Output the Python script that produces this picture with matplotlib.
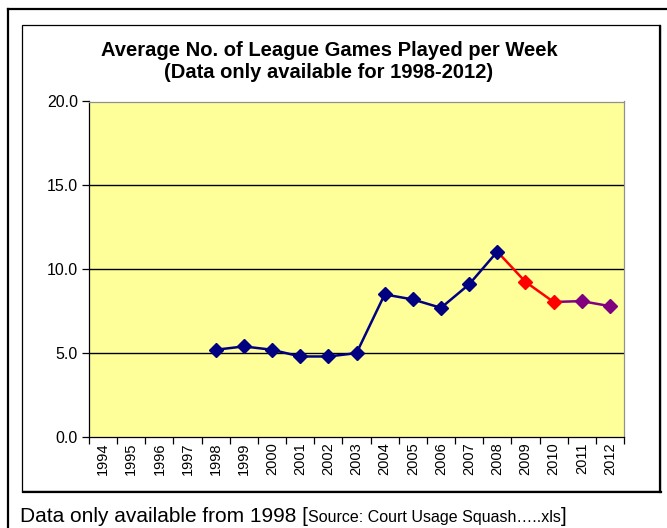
import matplotlib
matplotlib.use("Agg")
import matplotlib.pyplot as plt
from matplotlib.lines import Line2D
from matplotlib.patches import Rectangle

years = [str(y) for y in range(1994, 2013)]
data_years = list(range(1998, 2013))
values = [5.2, 5.4, 5.2, 4.8, 4.8, 5.0, 8.5, 8.2, 7.7, 9.1, 11.05, 9.25, 8.05, 8.1, 7.8]
# segments: (first year, last year, colour)
segments = [(1998, 2008, "#000080"), (2008, 2010, "#FF0000"), (2010, 2012, "#800080")]
marker_colors = ["#000080"] * 11 + ["#FF0000"] * 2 + ["#800080"] * 2

title = "Average No. of League Games Played per Week\n(Data only available for 1998-2012)"
footer_main = "Data only available from 1998 ["
footer_small = "Source: Court Usage Squash\u2026..xls"
footer_end = "]"

plt.rcParams["font.family"] = ["Liberation Sans", "DejaVu Sans"]

W, H = 667, 528
fig = plt.figure(figsize=(W / 100, H / 100), dpi=100)
fig.patch.set_facecolor("white")

def fx(px):
    return px / W

def fy(py):
    return 1 - py / H

# outer frame (top & left visible)
fig.add_artist(Line2D([fx(7.5), 1.0], [fy(9), fy(9)], color="black", lw=1.6, transform=fig.transFigure))
fig.add_artist(Line2D([fx(7.5), fx(7.5)], [fy(9), 0.0], color="black", lw=1.6, transform=fig.transFigure))

# inner chart box
fig.add_artist(Rectangle((fx(22), fy(491)), fx(660) - fx(22), fy(25) - fy(491),
                         transform=fig.transFigure, facecolor="white", edgecolor="black", lw=0.9, zorder=0))
fig.add_artist(Line2D([fx(660), fx(660)], [fy(26), fy(492)], color="black", lw=1.6, transform=fig.transFigure))
fig.add_artist(Line2D([fx(23), fx(661)], [fy(491.5), fy(491.5)], color="black", lw=1.6, transform=fig.transFigure))

left, right, top, bottom = 89, 624, 101.5, 437
ax = fig.add_axes([fx(left), fy(bottom), fx(right) - fx(left), fy(top) - fy(bottom)])
ax.set_facecolor("#FFFF99")

idx = {y: i for i, y in enumerate(range(1994, 2013))}
for y0, y1, c in segments:
    xs = [idx[y] for y in data_years if y0 <= y <= y1]
    vs = [v for y, v in zip(data_years, values) if y0 <= y <= y1]
    ax.plot(xs, vs, color=c, lw=1.8, zorder=3, solid_joinstyle="round")
for y, v, c in zip(data_years, values, marker_colors):
    ax.plot([idx[y]], [v], marker="D", ms=7.5, color=c, mec=c, zorder=4)

ax.set_xlim(-0.5, len(years) - 0.5)
ax.set_ylim(0, 20)
ax.set_yticks([0, 5, 10, 15, 20])
ax.set_yticklabels([f"{t:.1f}" for t in [0, 5, 10, 15, 20]], fontsize=11.5)
ax.set_xticks(range(len(years)))
ax.set_xticklabels(years, rotation=90, fontsize=10.5)
ax.tick_params(axis="x", which="major", length=0, pad=4)
ax.set_xticks([i - 0.5 for i in range(len(years) + 1)], minor=True)
ax.tick_params(axis="x", which="minor", length=5, width=0.9, direction="out", color="black")
ax.tick_params(axis="y", length=5, width=0.9, direction="out", color="black", pad=3)

for g in [5, 10, 15]:
    ax.axhline(g, color="black", lw=1.0, zorder=1)

ax.spines["left"].set_color("black")
ax.spines["bottom"].set_color("black")
ax.spines["top"].set_color("#909090")
ax.spines["right"].set_color("#909090")
for s in ax.spines.values():
    s.set_linewidth(0.9)

fig.text(fx(329), fy(61), title, ha="center", va="center", fontsize=14.5, fontweight="bold",
         linespacing=1.2)

# footer with mixed sizes
fig.canvas.draw()
r = fig.canvas.get_renderer()
base_y = fy(522)
t1 = fig.text(fx(20), base_y, footer_main, fontsize=15, ha="left", va="baseline")
fig.canvas.draw()
e1 = t1.get_window_extent(r)
t2 = fig.text(e1.x1 / W, base_y, footer_small, fontsize=11.5, ha="left", va="baseline")
fig.canvas.draw()
e2 = t2.get_window_extent(r)
fig.text(e2.x1 / W, base_y, footer_end, fontsize=15, ha="left", va="baseline")

fig.savefig("out.png", dpi=100)
